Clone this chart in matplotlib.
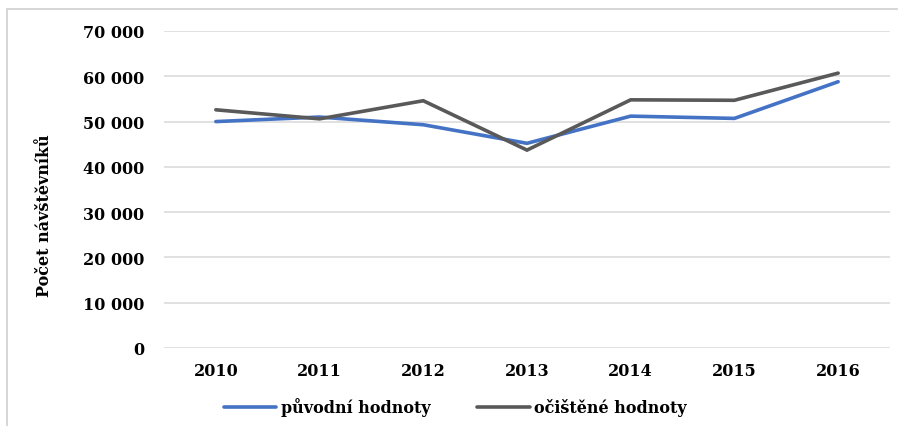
import matplotlib
matplotlib.use('Agg')
import matplotlib.pyplot as plt
from matplotlib.patches import Rectangle
from matplotlib.ticker import FuncFormatter

# Data
years = ['2010', '2011', '2012', '2013', '2014', '2015', '2016']
puvodni = [50000, 51000, 49300, 45200, 51200, 50700, 58800]
ocistene = [52600, 50600, 54600, 43700, 54800, 54700, 60700]

plt.rcParams['font.family'] = ['DejaVu Serif']
plt.rcParams['font.weight'] = 'bold'

fig = plt.figure(figsize=(8.98, 4.27), dpi=100)
ax = fig.add_axes([164 / 898, 1 - 349 / 427, (890 - 164) / 898, (349 - 32) / 427])

# outer chart frame (cropped at right/bottom as in the reference)
fig.patches.append(Rectangle((7 / 898, -0.05), 1.1, 1 - 10 / 427 + 0.05,
                             transform=fig.transFigure, fill=False,
                             edgecolor='#d0d0d0', linewidth=1.2))

x = range(len(years))
ax.plot(x, puvodni, color='#4472C4', linewidth=2.6, label='původní hodnoty',
        solid_capstyle='round', solid_joinstyle='miter')
ax.plot(x, ocistene, color='#595959', linewidth=2.6, label='očištěné hodnoty',
        solid_capstyle='round', solid_joinstyle='miter')

ax.set_xlim(-0.5, len(years) - 0.5)
ax.set_ylim(0, 70000)
ax.set_yticks(range(0, 70001, 10000))
ax.yaxis.set_major_formatter(FuncFormatter(lambda v, p: f'{int(v):,}'.replace(',', ' ')))
ax.set_xticks(list(x))
ax.set_xticklabels(years)

ax.grid(True, axis='y', color='#d9d9d9', linewidth=1.1)
ax.set_axisbelow(True)
for s in ax.spines.values():
    s.set_visible(False)
ax.tick_params(axis='both', length=0, labelsize=11.5)
ax.tick_params(axis='y', pad=14)
ax.tick_params(axis='x', pad=10)

ax.set_ylabel('Počet návštěvníků', fontsize=11.5, fontweight='bold')
ax.yaxis.set_label_coords(-0.153, 0.42)

fig.legend(loc='center', bbox_to_anchor=(0.507, 1 - 408 / 427), ncol=2, frameon=False,
           fontsize=11.5, handlelength=3.3, handletextpad=0.3, columnspacing=2.9)

fig.savefig('out.png', dpi=100)
